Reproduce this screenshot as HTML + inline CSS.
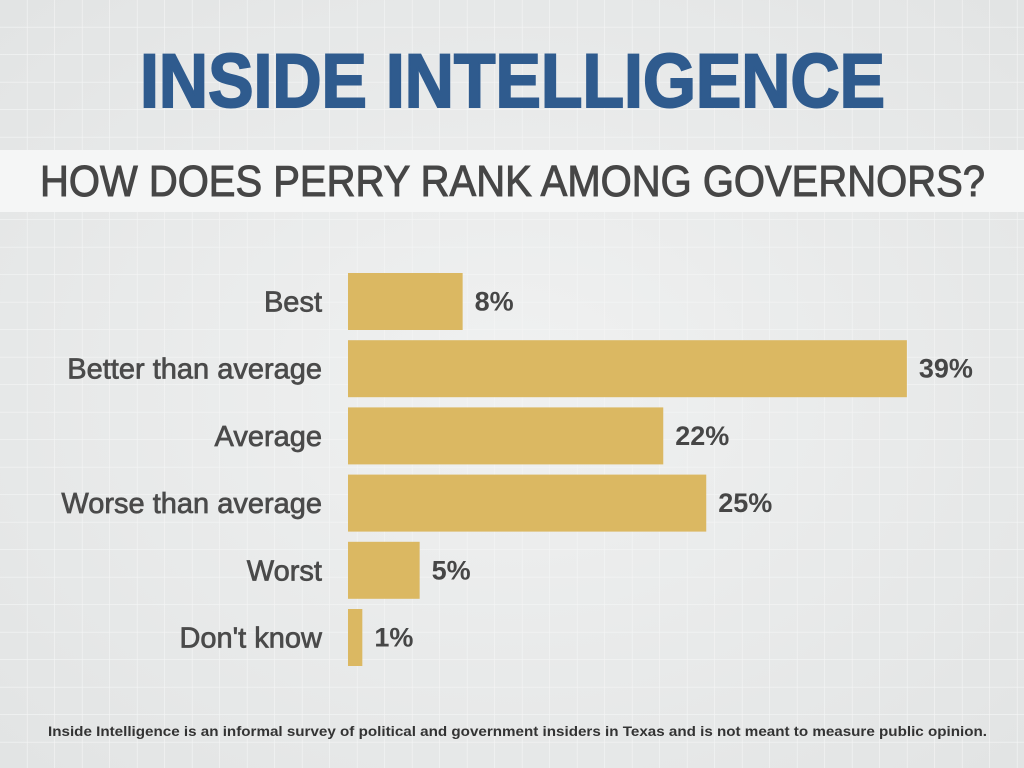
<!DOCTYPE html>
<html><head><meta charset="utf-8"><style>
html,body{margin:0;padding:0}
body{width:1024px;height:768px;background:#e9ebeb;overflow:hidden}
svg{display:block}
text{font-family:"Liberation Sans",sans-serif}
</style></head><body>
<svg id="chart" width="1024" height="768" viewBox="0 0 1024 768">
<defs>
<pattern id="grid" width="27.5" height="27.5" patternUnits="userSpaceOnUse">
<path d="M27.5 0V27.5M0 27.5H27.5" stroke="#f4f5f5" stroke-width="1.2" fill="none"/>
</pattern>
<radialGradient id="glow" cx="0.5" cy="0.5" r="0.7">
<stop offset="0" stop-color="#f0f1f1"/><stop offset="1" stop-color="#e2e4e4"/>
</radialGradient>
</defs>
<rect width="1024" height="768" fill="url(#glow)"/>
<rect width="1024" height="768" fill="url(#grid)"/>
<text x="140" y="107" font-size="76" font-weight="bold" fill="#2f5b8e" stroke="#2f5b8e" stroke-width="2" textLength="745" lengthAdjust="spacingAndGlyphs">INSIDE INTELLIGENCE</text>
<rect x="0" y="150" width="1024" height="62" fill="#f5f6f6"/>
<text x="40" y="196" font-size="44" fill="#464646" stroke="#464646" stroke-width="1" textLength="945" lengthAdjust="spacingAndGlyphs">HOW DOES PERRY RANK AMONG GOVERNORS?</text>
<g id="bars"></g>
<text x="48" y="736" font-size="14" font-weight="bold" fill="#333" textLength="939" lengthAdjust="spacingAndGlyphs">Inside Intelligence is an informal survey of political and government insiders in Texas and is not meant to measure public opinion.</text>
</svg>
<script>
const categories=["Best","Better than average","Average","Worse than average","Worst","Don't know"];
const values=[8,39,22,25,5,1];
const x0=348, pxPer=14.33, y0=273, step=67.2, barH=57;
const xs=v=>x0+v*pxPer;
const ys=i=>y0+i*step;
const g=document.getElementById('bars');
const NS='http://www.w3.org/2000/svg';
categories.forEach((c,i)=>{
  const r=document.createElementNS(NS,'rect');
  r.setAttribute('x',x0);r.setAttribute('y',ys(i));
  r.setAttribute('width',xs(values[i])-x0);r.setAttribute('height',barH);
  r.setAttribute('fill','#dbb862');
  
  
  g.appendChild(r);
  const l=document.createElementNS(NS,'text');
  l.setAttribute('x',322);l.setAttribute('y',ys(i)+barH/2+10);
  l.setAttribute('text-anchor','end');l.setAttribute('font-size','29');l.setAttribute('fill','#4a4a4a');
  l.setAttribute('stroke','#4a4a4a');l.setAttribute('stroke-width','0.7');
  l.textContent=c;
  
  
  g.appendChild(l);
  const v=document.createElementNS(NS,'text');
  v.setAttribute('x',xs(values[i])+12);v.setAttribute('y',ys(i)+barH/2+9);
  v.setAttribute('font-size','27');v.setAttribute('font-weight','bold');v.setAttribute('fill','#464646');
  v.textContent=values[i]+'%';
  
  
  g.appendChild(v);
});
</script>
</body></html>
